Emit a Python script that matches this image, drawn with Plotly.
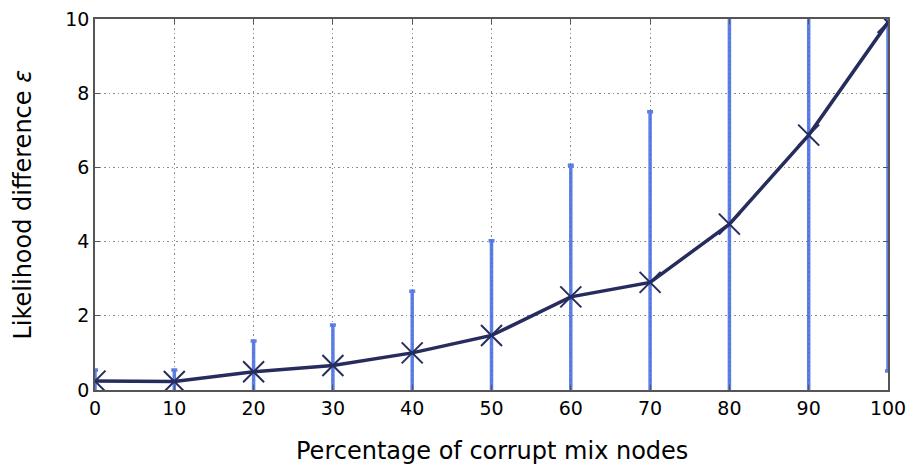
import plotly.graph_objects as go

# Share of corrupt mix nodes (%) and the resulting likelihood difference
corrupt_pct = [0, 10, 20, 30, 40, 50, 60, 70, 80, 90, 100]
epsilon_mean = [0.24, 0.23, 0.49, 0.66, 1.0, 1.47, 2.51, 2.9, 4.47, 6.87, 9.91]
epsilon_std = [0.3, 0.31, 0.83, 1.09, 1.66, 2.55, 3.55, 4.6, 6.2, 7.6, 9.4]

x_ticks = [0, 10, 20, 30, 40, 50, 60, 70, 80, 90, 100]
y_ticks = [0, 2, 4, 6, 8, 10]

line_color = "#272c5e"
err_color = "rgba(65,105,225,0.85)"
frame_color = "#555555"
font_family = "DejaVu Sans, sans-serif"

fig = go.Figure()

# Standard-deviation bars, drawn underneath the mean curve
fig.add_trace(go.Scatter(
    x=corrupt_pct,
    y=epsilon_mean,
    mode="markers",
    marker=dict(size=1, color="rgba(0,0,0,0)"),
    error_y=dict(
        type="data",
        array=epsilon_std,
        symmetric=True,
        color=err_color,
        thickness=3.5,
        width=3,
    ),
    hoverinfo="skip",
    showlegend=False,
))

# Mean likelihood difference
fig.add_trace(go.Scatter(
    x=corrupt_pct,
    y=epsilon_mean,
    mode="lines+markers",
    line=dict(color=line_color, width=3.5),
    marker=dict(symbol="x-thin-open", size=21,
                line=dict(color=line_color, width=2)),
    showlegend=False,
))

axis_common = dict(
    showline=True,
    linecolor=frame_color,
    linewidth=1.5,
    mirror="ticks",
    ticks="inside",
    ticklen=5,
    tickwidth=1,
    tickcolor=frame_color,
    showgrid=True,
    gridcolor="#8c8c8c",
    gridwidth=1,
    griddash="1.5px,3px",
    zeroline=False,
    automargin=False,
    tickfont=dict(family=font_family, size=19, color="black"),
)

fig.update_xaxes(
    **axis_common,
    range=[0, 100],
    tickvals=x_ticks,
    ticktext=[str(v) for v in x_ticks],
)
fig.update_yaxes(
    **axis_common,
    range=[0, 10],
    tickvals=y_ticks,
    ticktext=[str(v) for v in y_ticks],
)

title_font = dict(family=font_family, size=24, color="black")
fig.add_annotation(
    text="Percentage of corrupt mix nodes",
    xref="paper", yref="paper", x=0.5, y=-0.165,
    xanchor="center", yanchor="middle",
    showarrow=False, font=title_font,
)
fig.add_annotation(
    text="Likelihood difference <i>ε</i>",
    xref="paper", yref="paper", x=-0.092, y=0.5,
    xanchor="center", yanchor="middle", textangle=-90,
    showarrow=False, font=title_font,
)

fig.update_layout(
    width=908,
    height=468,
    margin=dict(l=95, r=20, t=19, b=78),
    paper_bgcolor="white",
    plot_bgcolor="white",
)

fig.write_html("out.html")
